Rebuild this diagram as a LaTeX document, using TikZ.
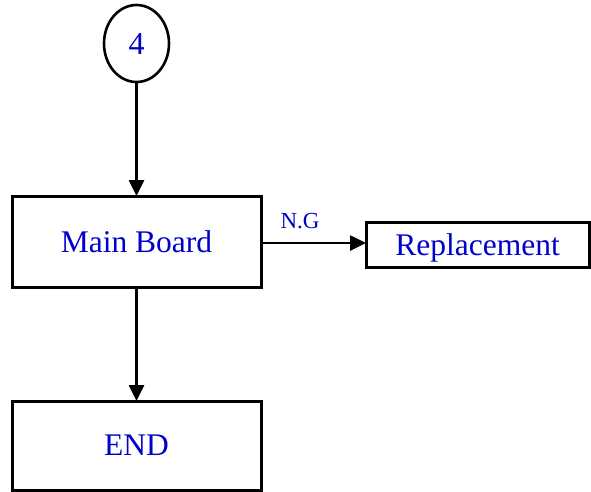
\documentclass[tikz,border=0pt]{standalone}
\usepackage{fontspec}
\setmainfont{Liberation Serif}
\usetikzlibrary{shapes.geometric,arrows.meta}
\definecolor{txtblue}{RGB}{0,0,205}
\begin{document}
\begin{tikzpicture}[x=1pt,y=1pt,
  boxstyle/.style={draw=black,line width=3pt,rectangle,inner sep=0pt,outer sep=0pt,
    text=txtblue,font=\fontsize{31.5}{36}\selectfont},
  ovalstyle/.style={draw=black,line width=2.6pt,ellipse,inner sep=0pt,outer sep=0pt,
    minimum width=65pt,minimum height=77pt,text=txtblue,font=\fontsize{32}{36}\selectfont},
  flow/.style={draw=black,line width=2.6pt,-{Triangle[length=16pt,width=15pt]}},
  lbl/.style={text=txtblue,font=\fontsize{23}{26}\selectfont,inner sep=0pt}]
\useasboundingbox (0,0) rectangle (591,-491);
\node[ovalstyle] (c4) at (136.5,-43.5) {4};
\node[boxstyle,minimum width=249pt,minimum height=91pt] (mb) at (136.5,-241.5) {Main Board};
\node[boxstyle,minimum width=223pt,minimum height=45pt,text depth=0pt] (rep) at (477.5,-244.5) {Replacement};
\node[boxstyle,minimum width=249pt,minimum height=89pt] (end) at (136.5,-445.5) {END};
\node[lbl] (ng) at (300,-221) {N.G};
\draw[flow] (c4.south) -- (mb.north);
\draw[flow] (mb.south) -- (end.north);
\draw[flow] (mb.east |- 0,-243) -- (rep.west |- 0,-243);
\end{tikzpicture}
\end{document}
